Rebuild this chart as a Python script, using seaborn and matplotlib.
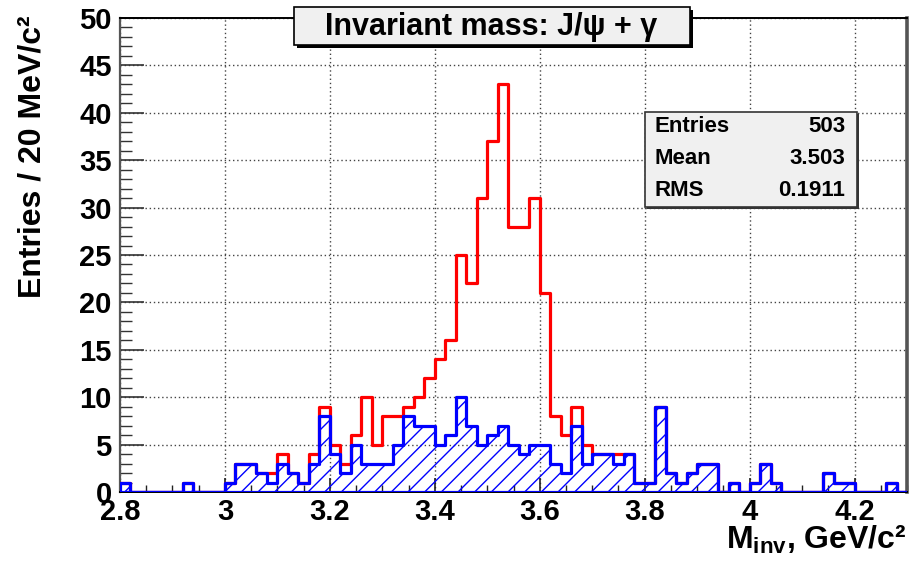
import numpy as np
import pandas as pd
import matplotlib
matplotlib.use("Agg")
import matplotlib.pyplot as plt
import seaborn as sns
from matplotlib.patches import Rectangle
from matplotlib.ticker import MultipleLocator, FixedLocator, FixedFormatter

# ---------------- data ----------------
mass_low = 2.8            # GeV/c^2, first bin edge
bin_width = 0.02          # 20 MeV/c^2
total_counts = [1, 0, 0, 0, 0, 0, 1, 0, 0, 0,
                1, 3, 3, 2, 2, 4, 2, 1, 4, 9,
                5, 3, 6, 10, 5, 8, 8, 9, 10, 12,
                14, 16, 25, 22, 31, 37, 43, 28, 28, 31,
                21, 8, 6, 9, 5, 4, 4, 4, 4, 1,
                1, 9, 2, 1, 2, 3, 3, 0, 1, 0,
                1, 3, 1, 0, 0, 0, 0, 2, 1, 1,
                0, 0, 0, 1, 0]
background_counts = [1, 0, 0, 0, 0, 0, 1, 0, 0, 0,
                     1, 3, 3, 2, 1, 3, 2, 1, 3, 8,
                     4, 2, 5, 3, 3, 3, 5, 8, 7, 7,
                     5, 6, 10, 7, 5, 6, 7, 5, 4, 5,
                     5, 3, 2, 7, 3, 4, 4, 3, 4, 1,
                     1, 9, 2, 1, 2, 3, 3, 0, 1, 0,
                     1, 3, 1, 0, 0, 0, 0, 2, 1, 1,
                     0, 0, 0, 1, 0]
x_ticks = [2.8, 3.0, 3.2, 3.4, 3.6, 3.8, 4.0, 4.2]
x_tick_labels = ["2.8", "3", "3.2", "3.4", "3.6", "3.8", "4", "4.2"]
y_ticks = [0, 5, 10, 15, 20, 25, 30, 35, 40, 45, 50]
y_tick_labels = ["0", "5", "10", "15", "20", "25", "30", "35", "40", "45", "50"]
stats_names = ["Entries", "Mean", "RMS"]
stats_values = ["503", "3.503", "0.1911"]
title_text = "Invariant mass: J/\u03c8 + \u03b3"
x_label = r"$\mathrm{M_{inv}}$, GeV/c" + "\u00b2"
y_label = "Entries / 20 MeV/c\u00b2"

# ---------------- style ----------------
sns.set_theme(style="white")
plt.rcParams["font.family"] = ["Liberation Sans", "DejaVu Sans"]
plt.rcParams["mathtext.fontset"] = "custom"
plt.rcParams["mathtext.rm"] = "Liberation Sans:bold"
plt.rcParams["mathtext.it"] = "Liberation Sans:bold"
plt.rcParams["mathtext.bf"] = "Liberation Sans:bold"
plt.rcParams["hatch.linewidth"] = 1.0

n_bins = len(total_counts)
edges = mass_low + bin_width * np.arange(n_bins + 1)
centers = edges[:-1] + bin_width / 2
df = pd.DataFrame({"mass": centers, "total": total_counts, "bkg": background_counts})
edge_list = [float(e) for e in edges]

W, H = 912, 571
fig = plt.figure(figsize=(W / 100, H / 100), dpi=100)
fig.patch.set_facecolor("white")
ax_l, ax_r, ax_t, ax_b = 120, 907, 18, 492
ax = fig.add_axes([ax_l / W, 1 - ax_b / H, (ax_r - ax_l) / W, (ax_b - ax_t) / H])
ax.set_facecolor("white")

sns.histplot(data=df, x="mass", weights="total", bins=edge_list, element="step",
             fill=False, color="#ff0000", linewidth=2.3, ax=ax, zorder=3)
sns.histplot(data=df, x="mass", weights="bkg", bins=edge_list, element="step",
             fill=True, color="#0000ff", facecolor="none", edgecolor="#0000ff",
             hatch="//", linewidth=2.3, ax=ax, zorder=4)

ax.set_xlim(edges[0], edges[-1])
ax.set_ylim(0, 50)

ax.xaxis.set_major_locator(FixedLocator(x_ticks))
ax.xaxis.set_major_formatter(FixedFormatter(x_tick_labels))
ax.xaxis.set_minor_locator(MultipleLocator(0.05))
ax.yaxis.set_major_locator(FixedLocator(y_ticks))
ax.yaxis.set_major_formatter(FixedFormatter(y_tick_labels))
ax.yaxis.set_minor_locator(MultipleLocator(1))

ax.tick_params(axis="x", which="major", direction="in", length=10, width=1.2,
               color="#222222", labelsize=21, pad=4, bottom=True)
ax.tick_params(axis="x", which="minor", direction="in", length=5, width=1.0,
               color="#222222", bottom=True)
ax.tick_params(axis="y", which="major", direction="in", length=17, width=1.2,
               color="#333333", labelsize=21, pad=6, left=True)
ax.tick_params(axis="y", which="minor", direction="in", length=8.5, width=1.0,
               color="#333333", left=True)
for lbl in ax.get_xticklabels() + ax.get_yticklabels():
    lbl.set_fontweight("bold")
    lbl.set_color("black")

ax.grid(True, which="major", linestyle=(0, (1, 2)), color="#444444", linewidth=1.0)
ax.set_axisbelow(True)

for side in ["top", "bottom"]:
    ax.spines[side].set_color("black")
    ax.spines[side].set_linewidth(1.4)
ax.spines["left"].set_color("#555555")
ax.spines["left"].set_linewidth(1.6)
ax.spines["right"].set_color("#555555")
ax.spines["right"].set_linewidth(2.6)

# axis titles
ax.set_ylabel(y_label, fontsize=23, fontweight="bold", color="black")
ax.yaxis.label.set_rotation_mode("default")
ax.yaxis.label.set_ha("center")
ax.yaxis.label.set_va("top")
ax.yaxis.set_label_coords((33 - ax_l) / (ax_r - ax_l), 1 + 3 / (ax_b - ax_t))

ax.set_xlabel(x_label, fontsize=23, fontweight="bold", color="black")
ax.xaxis.label.set_ha("right")
ax.xaxis.label.set_va("baseline")
ax.xaxis.set_label_coords(1.0, -(549 - ax_b) / (ax_b - ax_t))

# title box with shadow
def fig_rect(x0, y0, x1, y1, **kw):
    return Rectangle((x0 / W, 1 - y1 / H), (x1 - x0) / W, (y1 - y0) / H,
                     transform=fig.transFigure, **kw)

fig.patches.append(fig_rect(297, 10, 693, 48, facecolor="black", edgecolor="none", zorder=5))
fig.patches.append(fig_rect(294, 7, 690, 45, facecolor="#f0f0f0", edgecolor="black",
                            linewidth=1.2, zorder=6))
fig.text(491 / W, 1 - 27 / H, title_text, fontsize=22, fontweight="bold",
         ha="center", va="center", color="black", zorder=7)

# statistics box with shadow
fig.patches.append(fig_rect(647, 114, 859, 209, facecolor="#333333", edgecolor="none", zorder=5))
fig.patches.append(fig_rect(645, 112, 857, 207, facecolor="#f0f0f0", edgecolor="#333333",
                            linewidth=1.2, zorder=6))
for name, val, yy in zip(stats_names, stats_values, [127, 159, 190]):
    fig.text(655 / W, 1 - yy / H, name, fontsize=16, fontweight="bold",
             ha="left", va="center", color="black", zorder=7)
    fig.text(845 / W, 1 - yy / H, val, fontsize=16, fontweight="bold",
             ha="right", va="center", color="black", zorder=7)

fig.savefig("out.png", dpi=100, facecolor="white")
